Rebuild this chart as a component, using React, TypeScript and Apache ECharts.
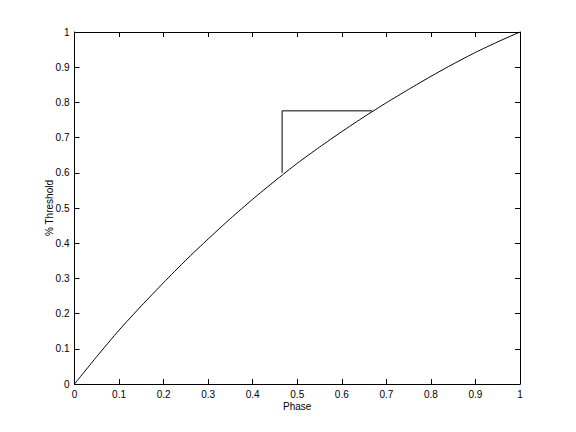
import React, { useEffect, useRef } from "react";
import * as echarts from "echarts";

const phase = [0, 0.05, 0.1, 0.15, 0.2, 0.25, 0.3, 0.35, 0.4, 0.45, 0.5, 0.55, 0.6, 0.65, 0.7, 0.75, 0.8, 0.85, 0.9, 0.95, 1];
const threshold = [0, 0.078, 0.153, 0.222, 0.288, 0.352, 0.412, 0.47, 0.525, 0.577, 0.627, 0.673, 0.717, 0.759, 0.799, 0.837, 0.874, 0.909, 0.942, 0.972, 1];
const stepX = [0.466, 0.466, 0.668];
const stepY = [0.6, 0.776, 0.776];

const font = "Liberation Sans, Arial, Helvetica, sans-serif";

export default function App() {
  const ref = useRef<HTMLDivElement>(null);
  useEffect(() => {
    const chart = echarts.init(ref.current!, null, { renderer: "svg" });
    const mk = () => ({
      type: "value" as const,
      min: 0,
      max: 1,
      interval: 0.1,
      splitLine: { show: false },
      axisLine: { show: true, onZero: false, lineStyle: { color: "#000", width: 1 } },
      axisTick: { show: true, inside: true, length: 5, lineStyle: { color: "#000", width: 1 } },
    });
    chart.setOption({
      animation: false,
      backgroundColor: "#fff",
      grid: { left: 74.5, right: 56, top: 32, bottom: 48 },
      xAxis: [
        {
          ...mk(),
          position: "bottom",
          name: "Phase",
          nameLocation: "middle",
          nameGap: 17,
          nameMoveOverlap: false,
          nameTextStyle: { fontFamily: font, fontSize: 10, color: "#000" },
          axisLabel: { fontFamily: font, fontSize: 10, color: "#000", margin: 5 },
        },
        {
          ...mk(),
          position: "top",
          axisLabel: { show: false },
        },
      ],
      yAxis: [
        {
          ...mk(),
          position: "left",
          name: "% Threshold",
          nameLocation: "middle",
          nameGap: 20,
          nameMoveOverlap: false,
          nameRotate: 90,
          nameTextStyle: { fontFamily: font, fontSize: 10, color: "#000" },
          axisLabel: { fontFamily: font, fontSize: 10, color: "#000", margin: 5 },
        },
        {
          ...mk(),
          position: "right",
          axisLabel: { show: false },
        },
      ],
      series: [
        {
          type: "line",
          data: phase.map((x, i) => [x, threshold[i]]),
          smooth: 0.2,
          symbol: "none",
          lineStyle: { color: "#000", width: 1 },
        },
        {
          type: "line",
          data: stepX.map((x, i) => [x, stepY[i]]),
          symbol: "none",
          lineStyle: { color: "#000", width: 1 },
        },
      ],
    });
    return () => chart.dispose();
  }, []);
  return <div ref={ref} style={{ width: 576, height: 432, position: "absolute", left: 0, top: 0 }} />;
}
